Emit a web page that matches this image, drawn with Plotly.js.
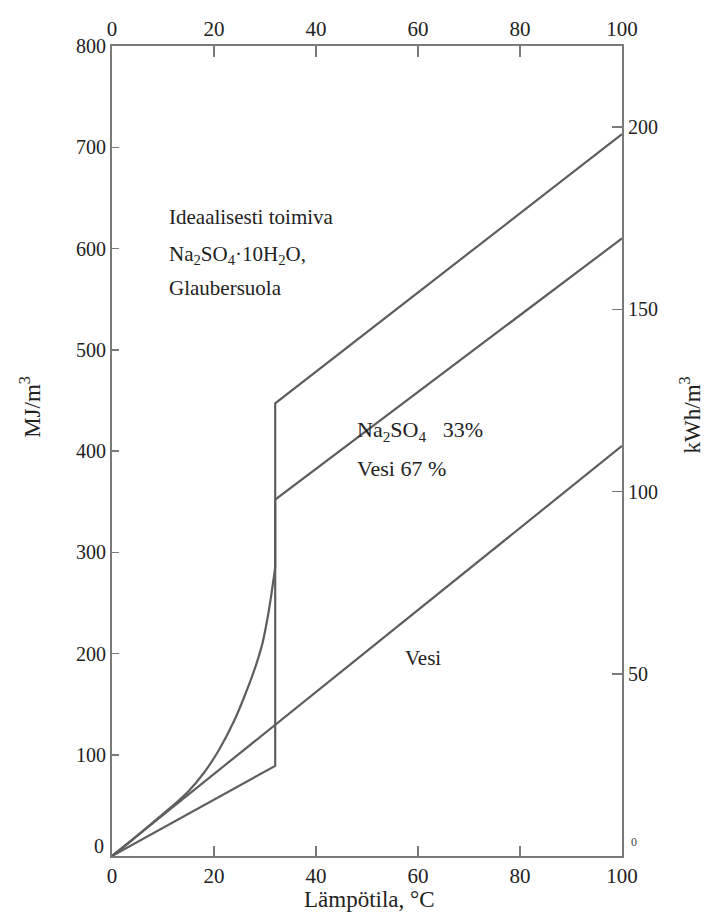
<!DOCTYPE html>
<html>
<head>
<meta charset="utf-8">
<script src="https://cdn.plot.ly/plotly-3.0.1.min.js"></script>
<style>html,body{margin:0;padding:0;background:#fff;}</style>
</head>
<body>
<div id="chart" style="width:715px;height:914px;"></div>
<script>
// Temperature (°C) and stored heat (MJ/m³)
const waterT = [0, 100];
const waterE = [0, 405];

const solutionT = [0, 32, 32, 100];
const solutionE = [0, 89, 352, 610];

const glauberCurveT = [0, 4, 8, 12, 15, 18, 21, 24, 26, 28, 29.5, 30.5, 31.3, 32];
const glauberCurveE = [0, 16, 33, 50, 64, 82, 105, 134, 158, 185, 210, 235, 260, 285];
const glauberTopT = [32, 32, 100];
const glauberTopE = [285, 447, 713];

const xTicks = [0, 20, 40, 60, 80, 100];
const yTicks = [0, 100, 200, 300, 400, 500, 600, 700, 800];
const yLabels = ["", "100", "200", "300", "400", "500", "600", "700", "800"];
const kwhTicks = [0, 50, 100, 150, 200];
const kwhLabels = ["", "50", "100", "150", "200"];

const lineColor = "#5e5e5e";
const axisColor = "#7a7a7a";
const fam = "Liberation Serif, Times New Roman, serif";
const font = {family: fam, size: 20, color: "#222"};
const fontX = {family: fam, size: 21, color: "#222"};
const fontL = {family: fam, size: 21, color: "#222"};
const fontT = {family: fam, size: 23, color: "#222"};

const traces = [
  {x: waterT, y: waterE, mode: "lines", line: {color: lineColor, width: 2.2}, hoverinfo: "skip"},
  {x: solutionT, y: solutionE, mode: "lines", line: {color: lineColor, width: 2.2}, hoverinfo: "skip"},
  {x: glauberCurveT, y: glauberCurveE, mode: "lines", line: {color: lineColor, width: 2.2, shape: "spline", smoothing: 0.5}, hoverinfo: "skip"},
  {x: glauberTopT, y: glauberTopE, mode: "lines", line: {color: lineColor, width: 2.2}, hoverinfo: "skip"},
  {x: [0, 100], y: [0, 0], xaxis: "x2", yaxis: "y2", mode: "lines", line: {width: 0}, opacity: 0, hoverinfo: "skip"}
];

const layout = {
  width: 715, height: 914,
  margin: {l: 112, r: 93, t: 46, b: 58},
  paper_bgcolor: "#fff", plot_bgcolor: "#fff",
  showlegend: false,
  font: font,
  xaxis: {
    range: [0, 100], tickvals: xTicks, ticks: "inside", ticklen: 10, tickwidth: 1.5, tickcolor: axisColor,
    showline: true, linecolor: axisColor, linewidth: 2, showgrid: false, zeroline: false,
    tickfont: fontX
  },
  xaxis2: {
    overlaying: "x", side: "top", range: [0, 100], tickvals: xTicks, ticks: "inside", ticklen: 11, tickwidth: 1.5, tickcolor: axisColor,
    showline: true, linecolor: axisColor, linewidth: 2, showgrid: false, zeroline: false,
    tickfont: fontX, anchor: "y2"
  },
  yaxis: {
    range: [0, 800], tickvals: yTicks, ticktext: yLabels, ticks: "inside", ticklen: 7, tickwidth: 1.5, tickcolor: axisColor,
    showline: true, linecolor: axisColor, linewidth: 2, showgrid: false, zeroline: false,
    tickfont: font
  },
  yaxis2: {
    overlaying: "y", side: "right", range: [0, 800 / 3.6], tickvals: kwhTicks, ticktext: kwhLabels,
    ticks: "inside", ticklen: 10, tickwidth: 1.5, tickcolor: axisColor,
    showline: true, linecolor: axisColor, linewidth: 2, showgrid: false, zeroline: false,
    tickfont: font, anchor: "x2"
  },
  annotations: [
    {text: "Lämpötila, °C", xref: "paper", yref: "paper", x: 0.505, y: -0.036, xanchor: "center", yanchor: "top", showarrow: false, font: fontT},
    {text: "MJ/m<sup>3</sup>", xref: "paper", yref: "paper", x: -0.16, y: 0.555, textangle: -90, xanchor: "center", yanchor: "middle", showarrow: false, font: fontT},
    {text: "kWh/m<sup>3</sup>", xref: "paper", yref: "paper", x: 1.135, y: 0.545, textangle: -90, xanchor: "center", yanchor: "middle", showarrow: false, font: fontT},
    {text: "0", xref: "paper", yref: "y", x: -0.012, y: 10, xanchor: "right", yanchor: "middle", showarrow: false, font: font},
    {text: "0", xref: "paper", yref: "y", x: 1.014, y: 14, xanchor: "left", yanchor: "middle", showarrow: false, font: {family: fam, size: 12, color: "#444"}},
    {text: "Ideaalisesti toimiva", xref: "x", yref: "y", x: 10.8, y: 631, xanchor: "left", yanchor: "middle", showarrow: false, font: fontL},
    {text: "Na<sub>2</sub>SO<sub>4</sub>·10H<sub>2</sub>O,", xref: "x", yref: "y", x: 10.8, y: 594, xanchor: "left", yanchor: "middle", showarrow: false, font: fontL},
    {text: "Glaubersuola", xref: "x", yref: "y", x: 10.8, y: 561, xanchor: "left", yanchor: "middle", showarrow: false, font: fontL},
    {text: "Na<sub>2</sub>SO<sub>4</sub>&nbsp;&nbsp;&nbsp;33%", xref: "x", yref: "y", x: 47.6, y: 420, xanchor: "left", yanchor: "middle", showarrow: false, font: {family: fam, size: 22, color: "#222"}},
    {text: "Vesi 67 %", xref: "x", yref: "y", x: 47.6, y: 383, xanchor: "left", yanchor: "middle", showarrow: false, font: {family: fam, size: 22, color: "#222"}},
    {text: "Vesi", xref: "x", yref: "y", x: 57, y: 196, xanchor: "left", yanchor: "middle", showarrow: false, font: fontL}
  ]
};

Plotly.newPlot("chart", traces, layout, {staticPlot: true, displayModeBar: false});
</script>
</body>
</html>
